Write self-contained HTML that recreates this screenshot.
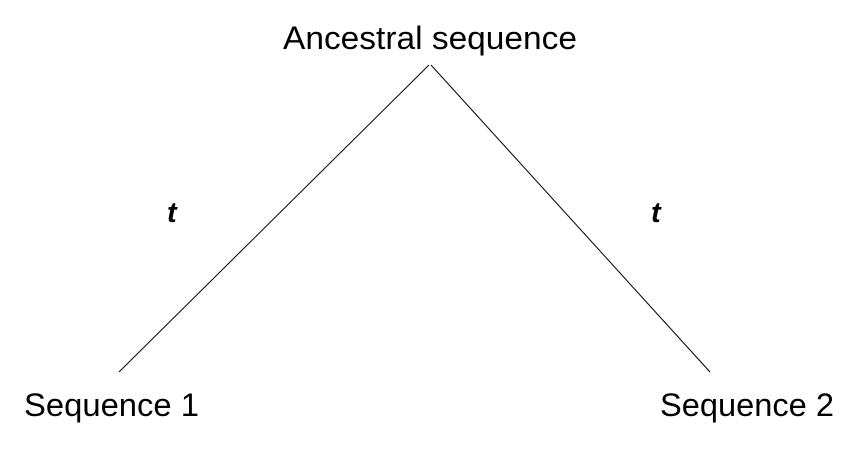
<!DOCTYPE html>
<html><head><meta charset="utf-8"><style>
html,body{margin:0;padding:0;background:#fff;}
svg{display:block;}
text{font-family:"Liberation Sans",sans-serif;fill:#000;}
</style></head><body>
<svg width="868" height="473" viewBox="0 0 868 473" xmlns="http://www.w3.org/2000/svg">
<rect width="868" height="473" fill="#fff"/>
<line x1="429" y1="65" x2="119" y2="372" stroke="#000" stroke-width="1"/>
<line x1="431" y1="65" x2="710" y2="372" stroke="#000" stroke-width="1"/>
<text x="283" y="49" font-size="32" textLength="294" lengthAdjust="spacingAndGlyphs">Ancestral sequence</text>
<text x="24" y="416" font-size="32" textLength="175" lengthAdjust="spacingAndGlyphs">Sequence 1</text>
<text x="660" y="416" font-size="32" textLength="174" lengthAdjust="spacingAndGlyphs">Sequence 2</text>
<text x="167" y="222" font-size="29" font-weight="bold" font-style="italic">t</text>
<text x="651" y="222" font-size="29" font-weight="bold" font-style="italic">t</text>
</svg>
</body></html>
